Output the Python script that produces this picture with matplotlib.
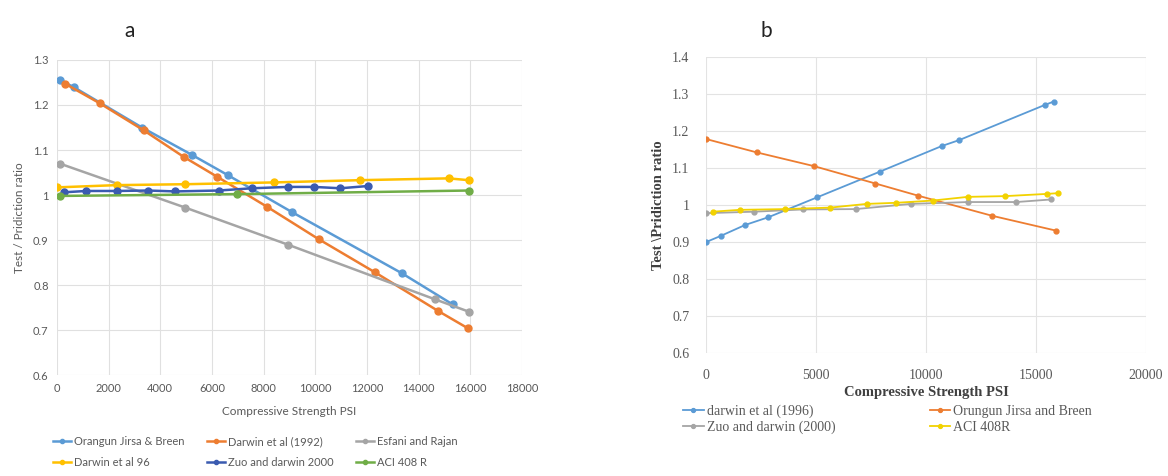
import matplotlib
matplotlib.use("Agg")
import matplotlib.pyplot as plt

# panel a data
orangun_x = [100, 670, 3290, 5230, 6620, 9100, 13360, 15320]
orangun_y = [1.256, 1.239, 1.150, 1.089, 1.044, 0.962, 0.826, 0.757]
darwin92_x = [320, 1650, 3350, 4900, 6190, 8130, 10130, 12320, 14770, 15910]
darwin92_y = [1.247, 1.204, 1.144, 1.085, 1.041, 0.974, 0.902, 0.828, 0.742, 0.704]
esfani_x = [100, 4970, 8930, 14650, 15940]
esfani_y = [1.070, 0.972, 0.890, 0.768, 0.741]
darwin96_x = [0, 2320, 4970, 8410, 11740, 15160, 15940]
darwin96_y = [1.017, 1.022, 1.024, 1.028, 1.033, 1.037, 1.033]
zuo_a_x = [260, 1130, 2320, 3520, 4580, 6260, 7550, 8930, 9960, 10970, 12040]
zuo_a_y = [1.006, 1.009, 1.009, 1.010, 1.008, 1.010, 1.015, 1.018, 1.018, 1.015, 1.020]
aci_a_x = [100, 6970, 15940]
aci_a_y = [0.998, 1.002, 1.010]

# panel b data
darwin96b_x = [0, 680, 1770, 2830, 5060, 7900, 10710, 11500, 15400, 15800]
darwin96b_y = [0.900, 0.917, 0.946, 0.967, 1.021, 1.090, 1.159, 1.175, 1.270, 1.279]
orungun_x = [0, 2300, 4900, 7700, 9650, 13000, 15900]
orungun_y = [1.178, 1.142, 1.105, 1.058, 1.025, 0.971, 0.931]
zuo_b_x = [0, 2200, 4400, 6800, 9300, 11900, 14100, 15700]
zuo_b_y = [0.978, 0.982, 0.988, 0.989, 1.003, 1.008, 1.008, 1.015]
aci_b_x = [300, 1550, 3600, 5650, 7300, 8650, 10300, 11900, 13600, 15500, 16000]
aci_b_y = [0.982, 0.987, 0.989, 0.993, 1.003, 1.006, 1.012, 1.022, 1.024, 1.030, 1.032]

fig = plt.figure(figsize=(11.68, 4.76), dpi=100)

# ---------------- panel a (Excel look) ----------------
fa = "Lato"
ax1 = fig.add_axes([0.0488, 0.212, 0.398, 0.662])
series_a = [
    (orangun_x, orangun_y, "#5B9BD5", "Orangun Jirsa & Breen"),
    (darwin92_x, darwin92_y, "#ED7D31", "Darwin et al (1992)"),
    (esfani_x, esfani_y, "#A5A5A5", "Esfani and Rajan"),
    (darwin96_x, darwin96_y, "#FFC000", "Darwin et al 96"),
    (zuo_a_x, zuo_a_y, "#3A5BB0", "Zuo and darwin 2000"),
    (aci_a_x, aci_a_y, "#70AD47", "ACI 408 R"),
]
lines_a = []
for x, y, c, lab in series_a:
    l, = ax1.plot(x, y, color=c, lw=1.8, marker="o", ms=5, label=lab)
    lines_a.append(l)
ax1.set_xlim(0, 18000)
ax1.set_ylim(0.6, 1.3)
ax1.set_xticks(range(0, 18001, 2000))
ax1.set_yticks([0.6, 0.7, 0.8, 0.9, 1.0, 1.1, 1.2, 1.3])
ax1.set_yticklabels(["0.6", "0.7", "0.8", "0.9", "1", "1.1", "1.2", "1.3"])
ax1.grid(True, color="#E0E0E0", lw=0.8)
ax1.set_axisbelow(True)
for s in ax1.spines.values():
    s.set_visible(False)
ax1.tick_params(length=0, labelsize=8, labelcolor="#595959", pad=6)
for t in ax1.get_xticklabels() + ax1.get_yticklabels():
    t.set_family(fa)
ax1.set_xlabel("Compressive Strength PSI", fontsize=8.5, color="#595959", family=fa, labelpad=8)
ax1.set_ylabel("Test / Pridiction ratio", fontsize=8.5, color="#595959", family=fa, labelpad=6)
order = [0, 3, 1, 4, 2, 5]
fig.legend([lines_a[i] for i in order], [series_a[i][3] for i in order],
           ncol=3, loc="upper left", bbox_to_anchor=(0.037, 0.105),
           frameon=False, handlelength=1.6, handletextpad=0.3, columnspacing=2.0,
           labelspacing=0.9, prop={"family": fa, "size": 8}, labelcolor="#595959",
           markerscale=0.6)
fig.text(0.111, 0.935, "a", fontsize=15, family=fa, color="#222222", ha="center", va="center")

# ---------------- panel b (Times look) ----------------
fb = "Liberation Serif"
ax2 = fig.add_axes([0.6045, 0.2578, 0.3767, 0.623])
series_b = [
    (darwin96b_x, darwin96b_y, "#5B9BD5", "darwin et al (1996)"),
    (orungun_x, orungun_y, "#ED7D31", "Orungun Jirsa and Breen"),
    (zuo_b_x, zuo_b_y, "#A5A5A5", "Zuo and darwin (2000)"),
    (aci_b_x, aci_b_y, "#F2D200", "ACI 408R"),
]
lines_b = []
for x, y, c, lab in series_b:
    l, = ax2.plot(x, y, color=c, lw=1.3, marker="o", ms=3.5, label=lab)
    lines_b.append(l)
ax2.set_xlim(0, 20000)
ax2.set_ylim(0.6, 1.4)
ax2.set_xticks([0, 5000, 10000, 15000, 20000])
ax2.set_yticks([0.6, 0.7, 0.8, 0.9, 1.0, 1.1, 1.2, 1.3, 1.4])
ax2.set_yticklabels(["0.6", "0.7", "0.8", "0.9", "1", "1.1", "1.2", "1.3", "1.4"])
ax2.grid(True, color="#E3E3E3", lw=0.8)
ax2.set_axisbelow(True)
for s in ax2.spines.values():
    s.set_visible(False)
ax2.tick_params(length=0, labelsize=10, labelcolor="#595959")
ax2.tick_params(axis="x", pad=11)
ax2.tick_params(axis="y", pad=12)
for t in ax2.get_xticklabels() + ax2.get_yticklabels():
    t.set_family(fb)
ax2.set_xlabel("Compressive Strength PSI", fontsize=10.5, fontweight="bold", color="#404040",
               family=fb, labelpad=3)
ax2.set_ylabel("Test \\Pridiction ratio", fontsize=10.5, fontweight="bold", color="#404040",
               family=fb, labelpad=5)
order_b = [0, 2, 1, 3]
fig.legend([lines_b[i] for i in order_b], [series_b[i][3] for i in order_b],
           ncol=2, loc="upper left", bbox_to_anchor=(0.574, 0.176),
           frameon=False, handlelength=1.5, handletextpad=0.2, columnspacing=6.8,
           labelspacing=0.2, prop={"family": fb, "size": 10}, labelcolor="#595959",
           markerscale=0.8)
fig.text(0.656, 0.935, "b", fontsize=15, family=fa, color="#222222", ha="center", va="center")

fig.savefig("out.png", dpi=100, facecolor="white")
